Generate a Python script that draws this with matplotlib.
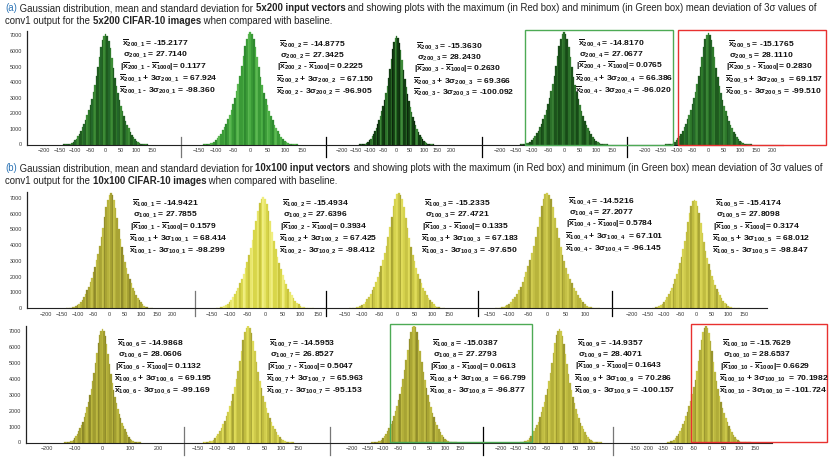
import numpy as np
import matplotlib
matplotlib.use('Agg')
import matplotlib.pyplot as plt
from matplotlib.patches import Rectangle

# histogram bins (5 units wide), counts
bin_centres = np.arange(-135, 136, 5)

counts_a1 = [3, 7, 14, 36, 64, 107, 178, 270, 383, 525, 696, 888, 1100, 1314, 1598, 1882, 2201, 2556, 2947, 3373, 3834, 4367, 4970, 5609, 6248, 6710, 6994, 7100, 6978, 6674, 6197, 5548, 4899, 4290, 3753, 3286, 2860, 2475, 2120, 1805, 1521, 1248, 1035, 827, 639, 477, 345, 238, 152, 89, 51, 26, 11, 5, 2]
counts_a2 = [3, 7, 14, 36, 65, 108, 180, 274, 389, 533, 706, 900, 1116, 1332, 1620, 1908, 2232, 2592, 2988, 3420, 3888, 4428, 5040, 5688, 6336, 6804, 7092, 7200, 7077, 6768, 6285, 5627, 4968, 4351, 3806, 3333, 2901, 2510, 2150, 1831, 1543, 1265, 1049, 838, 648, 483, 350, 242, 154, 91, 51, 27, 11, 5, 2]
counts_a3 = [3, 7, 14, 35, 63, 104, 174, 264, 375, 514, 681, 869, 1077, 1286, 1564, 1842, 2155, 2502, 2884, 3301, 3753, 4274, 4865, 5491, 6116, 6568, 6846, 6950, 6831, 6533, 6067, 5431, 4796, 4200, 3674, 3217, 2800, 2423, 2075, 1767, 1489, 1221, 1013, 809, 626, 467, 338, 233, 149, 87, 50, 26, 11, 5, 2]
counts_a4 = [3, 6, 15, 35, 66, 106, 182, 270, 392, 528, 710, 895, 1120, 1325, 1628, 1900, 2240, 2585, 2995, 3410, 3896, 4420, 5050, 5680, 6345, 6795, 7100, 7200, 7070, 6775, 6278, 5635, 4960, 4358, 3800, 3340, 2895, 2515, 2145, 1836, 1540, 1270, 1045, 842, 645, 486, 348, 244, 152, 92, 50, 27, 12, 5, 2]
counts_a5 = [3, 7, 14, 36, 64, 107, 179, 272, 386, 529, 701, 894, 1108, 1323, 1609, 1895, 2216, 2574, 2967, 3396, 3861, 4397, 5005, 5648, 6292, 6757, 7043, 7150, 7027, 6721, 6241, 5587, 4933, 4321, 3779, 3309, 2880, 2492, 2135, 1818, 1532, 1256, 1042, 832, 643, 480, 347, 240, 153, 90, 51, 27, 11, 5, 2]

counts_b1 = [2, 3, 7, 15, 37, 66, 110, 183, 277, 394, 540, 715, 913, 1132, 1351, 1643, 1935, 2263, 2628, 3030, 3468, 3942, 4490, 5110, 5767, 6424, 6899, 7191, 7300, 7175, 6862, 6372, 5705, 5037, 4411, 3859, 3379, 2941, 2545, 2180, 1856, 1564, 1283, 1064, 850, 657, 490, 355, 245, 156, 92, 52, 27, 11, 5]
counts_b2 = [7, 14, 35, 63, 106, 176, 268, 381, 522, 691, 881, 1093, 1304, 1586, 1868, 2185, 2538, 2926, 3349, 3807, 4336, 4935, 5569, 6204, 6662, 6944, 7050, 6929, 6627, 6153, 5509, 4864, 4260, 3726, 3263, 2840, 2457, 2105, 1793, 1511, 1239, 1027, 821, 634, 473, 342, 237, 151, 89, 50, 26, 11, 5, 2, 1]
counts_b3 = [2, 3, 7, 15, 37, 66, 110, 184, 279, 397, 544, 720, 919, 1139, 1360, 1654, 1948, 2279, 2646, 3050, 3491, 3969, 4520, 5145, 5807, 6468, 6946, 7240, 7350, 7224, 6909, 6416, 5744, 5072, 4442, 3885, 3402, 2961, 2562, 2195, 1869, 1575, 1292, 1071, 856, 662, 494, 357, 247, 158, 92, 53, 27, 12, 5]
counts_b4 = [3, 7, 15, 37, 66, 110, 184, 279, 397, 544, 720, 919, 1139, 1360, 1654, 1948, 2279, 2646, 3050, 3491, 3969, 4520, 5145, 5807, 6468, 6946, 7240, 7350, 7224, 6909, 6416, 5744, 5072, 4442, 3885, 3402, 2961, 2562, 2195, 1869, 1575, 1292, 1071, 856, 662, 494, 357, 247, 158, 92, 53, 27, 12, 5, 2]
counts_b5 = [7, 14, 34, 62, 103, 172, 262, 373, 511, 676, 862, 1069, 1276, 1552, 1828, 2139, 2484, 2863, 3277, 3726, 4243, 4830, 5451, 6072, 6520, 6796, 6900, 6782, 6486, 6023, 5392, 4761, 4170, 3647, 3194, 2780, 2405, 2060, 1755, 1479, 1212, 1005, 803, 621, 463, 335, 232, 148, 87, 49, 26, 11, 5, 2, 1]
counts_b6 = [3, 6, 15, 35, 65, 105, 181, 270, 388, 526, 704, 890, 1112, 1320, 1612, 1890, 2222, 2568, 2972, 3390, 3866, 4390, 5012, 5640, 6300, 6750, 7050, 7150, 7020, 6728, 6235, 5594, 4926, 4328, 3772, 3315, 2874, 2498, 2130, 1822, 1528, 1260, 1038, 836, 640, 483, 345, 242, 151, 91, 50, 27, 12, 5, 2]
counts_b7 = [3, 7, 15, 36, 67, 109, 185, 277, 399, 541, 724, 915, 1144, 1355, 1660, 1942, 2286, 2640, 3058, 3484, 3976, 4512, 5152, 5800, 6475, 6940, 7248, 7350, 7218, 6915, 6410, 5750, 5065, 4448, 3878, 3408, 2955, 2568, 2190, 1874, 1570, 1296, 1066, 860, 658, 497, 354, 249, 156, 93, 52, 28, 12, 5, 2]
counts_b8 = [3, 7, 15, 37, 67, 111, 185, 281, 400, 548, 725, 925, 1147, 1369, 1665, 1961, 2294, 2664, 3071, 3515, 3996, 4551, 5180, 5846, 6512, 6993, 7289, 7400, 7273, 6956, 6459, 5782, 5106, 4472, 3911, 3425, 2981, 2579, 2209, 1882, 1586, 1300, 1078, 862, 666, 497, 359, 248, 159, 93, 53, 27, 12, 5, 2]
counts_b9 = [7, 14, 36, 64, 107, 179, 272, 386, 529, 701, 894, 1108, 1323, 1609, 1895, 2216, 2574, 2967, 3396, 3861, 4397, 5005, 5648, 6292, 6757, 7043, 7150, 7027, 6721, 6241, 5587, 4933, 4321, 3779, 3309, 2880, 2492, 2135, 1818, 1532, 1256, 1042, 832, 643, 480, 347, 240, 153, 90, 51, 27, 11, 5, 2, 1]
counts_b10 = [15, 37, 66, 110, 184, 279, 397, 544, 720, 919, 1139, 1360, 1654, 1948, 2279, 2646, 3050, 3491, 3969, 4520, 5145, 5807, 6468, 6946, 7240, 7350, 7224, 6909, 6416, 5744, 5072, 4442, 3885, 3402, 2961, 2562, 2195, 1869, 1575, 1292, 1071, 856, 662, 494, 357, 247, 158, 92, 53, 27, 12, 5, 2, 1, 1]

# annotation values
tags_a = ['200\\_1', '200\\_2', '200\\_3', '200\\_4', '200\\_5']
mean_a = ['-15.2177', '-14.8775', '-15.3630', '-14.8170', '-15.1765']
sigma_a = ['27.7140', '27.3425', '28.2430', '27.0677', '28.1110']
dev_a = ['0.1177', '0.2225', '0.2630', '0.0765', '0.2830']
plus3_a = ['67.924', '67.150', '69.366', '66.386', '69.157']
minus3_a = ['-98.360', '-96.905', '-100.092', '-96.020', '-99.510']

tags_b = ['100\\_%d' % i for i in range(1, 11)]
mean_b = ['-14.9421', '-15.4934', '-15.2335', '-14.5216', '-15.4174',
          '-14.9868', '-14.5953', '-15.0387', '-14.9357', '-15.7629']
sigma_b = ['27.7855', '27.6396', '27.4721', '27.2077', '27.8098',
           '28.0606', '26.8527', '27.2793', '28.4071', '28.6537']
dev_b = ['0.1579', '0.3934', '0.1335', '0.5784', '0.3174',
         '0.1132', '0.5047', '0.0613', '0.1643', '0.6629']
plus3_b = ['68.414', '67.425', '67.183', '67.101', '68.012',
           '69.195', '65.963', '66.799', '70.286', '70.1982']
minus3_b = ['-98.299', '-98.412', '-97.650', '-96.145', '-98.847',
            '-99.169', '-95.153', '-96.877', '-100.157', '-101.724']

W, H = 830, 457
plt.rcParams['font.family'] = ['Liberation Sans', 'DejaVu Sans']
plt.rcParams['mathtext.fontset'] = 'custom'
plt.rcParams['mathtext.rm'] = 'Liberation Sans:bold'
plt.rcParams['mathtext.it'] = 'Liberation Sans:bold'
plt.rcParams['mathtext.bf'] = 'Liberation Sans:bold'
plt.rcParams['mathtext.sf'] = 'Liberation Sans:bold'

fig = plt.figure(figsize=(8.3, 4.57), dpi=100)
renderer = fig.canvas.get_renderer()


def fx(px):
    return px / W


def fy(py):
    return 1 - py / H


greens = [['#1e5a1e', '#2f7a2b', '#24662a', '#3d8c36'],
          ['#3a9a37', '#4caf45', '#2f8a30', '#5cb852'],
          ['#123d12', '#2a6e28', '#0a250a', '#3f8a3a'],
          ['#1b531b', '#2b6f29', '#174a17', '#377f33'],
          ['#1e5a1e', '#2e7a2b', '#25662a', '#3a8636']]
yellows = [['#a8a334', '#c4c048', '#8f8a2a', '#b5b13b'],
           ['#d8d64a', '#e8e66a', '#c8c43c', '#f0ee80'],
           ['#c8c444', '#e0dc5a', '#a8a433', '#d6d34e'],
           ['#b8b43c', '#d0cc50', '#a09c30', '#c4c046'],
           ['#c0bc40', '#d8d454', '#a8a435', '#cfcb4c'],
           ['#a09c30', '#bcb840', '#8c8828', '#b0ac38'],
           ['#c0bc40', '#dedb58', '#a6a234', '#d0cc4c'],
           ['#a8a434', '#c0bc44', '#908c2a', '#b4b03a'],
           ['#b4b03a', '#ccc84a', '#9c982e', '#c0bc42'],
           ['#b0ac38', '#ccc84a', '#98942e', '#bcb840']]
stripe = [0, 1, 2, 0, 3, 1, 0, 2, 1, 3, 0]


def panel(geo, top, bottom, ymax, counts, cols, first, sep_col, sep_up, sep_down):
    left, right, x0, scale, ticks = geo[:5]
    ax = fig.add_axes([fx(left), fy(bottom), fx(right - left), (bottom - top) / H])
    colours = [cols[stripe[i % len(stripe)]] for i in range(len(counts))]
    ax.bar(bin_centres, counts, width=5, color=colours, edgecolor=colours, linewidth=0.2)
    ax.set_xlim((left - x0) / scale, (right - x0) / scale)
    ax.set_ylim(0, ymax)
    ax.patch.set_alpha(0)
    for s in ['top', 'right', 'left']:
        ax.spines[s].set_visible(False)
    ax.spines['bottom'].set_color('#222222')
    ax.spines['bottom'].set_linewidth(0.8)
    ax.set_xticks(ticks)
    if len(geo) > 5:
        ax.set_xticklabels(geo[5])
    ax.tick_params(axis='x', length=0, pad=2.6, labelsize=3.9, colors='#333333')
    if first:
        ax.spines['left'].set_visible(True)
        ax.spines['left'].set_color('#222222')
        ax.spines['left'].set_linewidth(0.9)
        ax.set_yticks(range(0, 7001, 1000))
        ax.tick_params(axis='y', length=0, pad=3.5, labelsize=3.9, colors='#333333')
    else:
        ax.set_yticks([])
        h = bottom - top
        ax.axvline(ax.get_xlim()[0], ymin=-sep_down / h, ymax=sep_up / h,
                   color=sep_col, lw=0.9, clip_on=False)
    return ax


def notes(xpx, ytop, tag, mean, sigma, dev, plus3, minus3):
    lines = [r'$\overline{x}_{%s}$ = %s' % (tag, mean),
             r'$\sigma_{%s}$ = %s' % (tag, sigma),
             r'$|\overline{x}_{%s}$ - $\overline{x}_{1000}|$= %s' % (tag, dev),
             r'$\overline{x}_{%s}$ + 3$\sigma_{%s}$  = %s' % (tag, tag, plus3),
             r'$\overline{x}_{%s}$ - 3$\sigma_{%s}$ = %s' % (tag, tag, minus3)]
    offs = [2, 3, 0, -1, -1]
    for k, s in enumerate(lines):
        fig.text(fx(xpx + offs[k]), fy(ytop + k * 11.7), s, fontsize=6.1,
                 fontweight='bold', color='#111111', va='center', ha='left')


# panel geometry in pixels: left, right, pixel of x=0, px per unit, ticks
ticks50 = lambda a, b: list(range(a, b + 1, 50))
geo_a = [(27, 181, 105.7, 0.308, ticks50(-200, 150)),
         (181, 326, 250.3, 0.344, ticks50(-150, 150)),
         (326, 482, 396.7, 0.272, ticks50(-200, 200)),
         (482, 627, 564, 0.321, ticks50(-200, 150)),
         (627, 783, 708.3, 0.318, ticks50(-200, 200))]
geo_b1 = [(27, 195, 109.3, 0.316, ticks50(-200, 200)),
          (195, 326, 265, 0.355, ticks50(-150, 150)),
          (326, 478, 397, 0.35, ticks50(-150, 150)),
          (478, 612, 547.3, 0.38, ticks50(-150, 100)),
          (612, 767, 696, 0.32, ticks50(-200, 150))]
geo_b2 = [(26, 184, 102.5, 0.279, list(range(-200, 201, 100))),
          (184, 330, 248.3, 0.333, ticks50(-150, 150)),
          (330, 483, 414, 0.31, ticks50(-200, 150)),
          (483, 613, 561, 0.30, ticks50(-200, 100)),
          (613, 772, 709, 0.305, [-242] + ticks50(-200, 150),
           ['-150'] + [str(t) for t in ticks50(-200, 150)])]

counts_a = [counts_a1, counts_a2, counts_a3, counts_a4, counts_a5]
counts_b = [counts_b1, counts_b2, counts_b3, counts_b4, counts_b5,
            counts_b6, counts_b7, counts_b8, counts_b9, counts_b10]

sep_a = ['#777777', 'black', 'black', 'black']
sep_b1 = ['#777777', 'black', 'black', 'black']
sep_b2 = ['#777777', '#777777', 'black', '#777777']

for i in range(5):
    panel(geo_a[i], 30.5, 144.5, 7320, counts_a[i], greens[i], i == 0,
          sep_a[i - 1], 8, 12)
    panel(geo_b1[i], 191.5, 308, 7415, counts_b[i], yellows[i], i == 0,
          sep_b1[i - 1], 17, 8)
    panel(geo_b2[i], 326, 442.5, 7345, counts_b[i + 5], yellows[i + 5], i == 0,
          sep_b2[i - 1], 16, 12)

notes_a = [(120, 43.3), (277, 44), (414, 45.7), (576, 43), (726, 44)]
notes_b = [(130, 203.3), (280, 203.3), (422, 203.3), (566, 201), (713, 203.3),
           (115, 343.3), (267, 343.3), (430, 343.3), (575, 343), (720, 343.3)]
for i in range(5):
    notes(notes_a[i][0], notes_a[i][1], tags_a[i], mean_a[i], sigma_a[i],
          dev_a[i], plus3_a[i], minus3_a[i])
for i in range(10):
    notes(notes_b[i][0], notes_b[i][1], tags_b[i], mean_b[i], sigma_b[i],
          dev_b[i], plus3_b[i], minus3_b[i])

# highlight boxes
for (x0, y0, x1, y1, c) in [(525, 30, 672.7, 145, '#4daa55'),
                            (678, 30, 825.7, 145, '#e8312f'),
                            (390, 324, 531.7, 442.3, '#4daa55'),
                            (691, 324, 826.7, 442.3, '#e8312f')]:
    fig.patches.append(Rectangle((fx(x0), fy(y1)), fx(x1 - x0), (y1 - y0) / H,
                                 transform=fig.transFigure, fill=False,
                                 edgecolor=c, lw=1.0))


# captions
def caption(ypx, parts, size, draw=True):
    x = 5
    made = []
    for txt, bold, col in parts:
        t = fig.text(fx(x), fy(ypx), txt, fontsize=size, color=col, va='center',
                     ha='left', fontweight='bold' if bold else 'normal')
        x += t.get_window_extent(renderer).width
        made.append(t)
    if not draw:
        for t in made:
            t.remove()
    return x - 5


blue = '#2e75b6'
ink = '#222222'
cap_a1 = [('(a)', False, blue),
          (' Gaussian distribution, mean and standard deviation for ', False, ink),
          ('5x200 input vectors', True, ink),
          (' and showing plots with the maximum (in Red box) and minimum (in Green box) mean deviation of 3\u03c3 values of', False, ink)]
cap_a2 = [('conv1 output for the ', False, ink), ('5x200 CIFAR-10 images', True, ink),
          (' when compared with baseline.', False, ink)]
cap_b1 = [('(b)', False, blue),
          (' Gaussian distribution, mean and standard deviation for ', False, ink),
          ('10x100 input vectors', True, ink),
          (' and showing plots with the maximum (in Red box) and minimum (in Green box) mean deviation of 3\u03c3 values of', False, ink)]
cap_b2 = [('conv1 output for the ', False, ink), ('10x100 CIFAR-10 images', True, ink),
          (' when compared with baseline.', False, ink)]

w = caption(8.3, cap_a1, 7, draw=False)
size = 7 * 815 / w
caption(8.3, cap_a1, size)
caption(21.5, cap_a2, size)
caption(168.3, cap_b1, size)
caption(181.5, cap_b2, size)

fig.savefig('out.png', dpi=100)
